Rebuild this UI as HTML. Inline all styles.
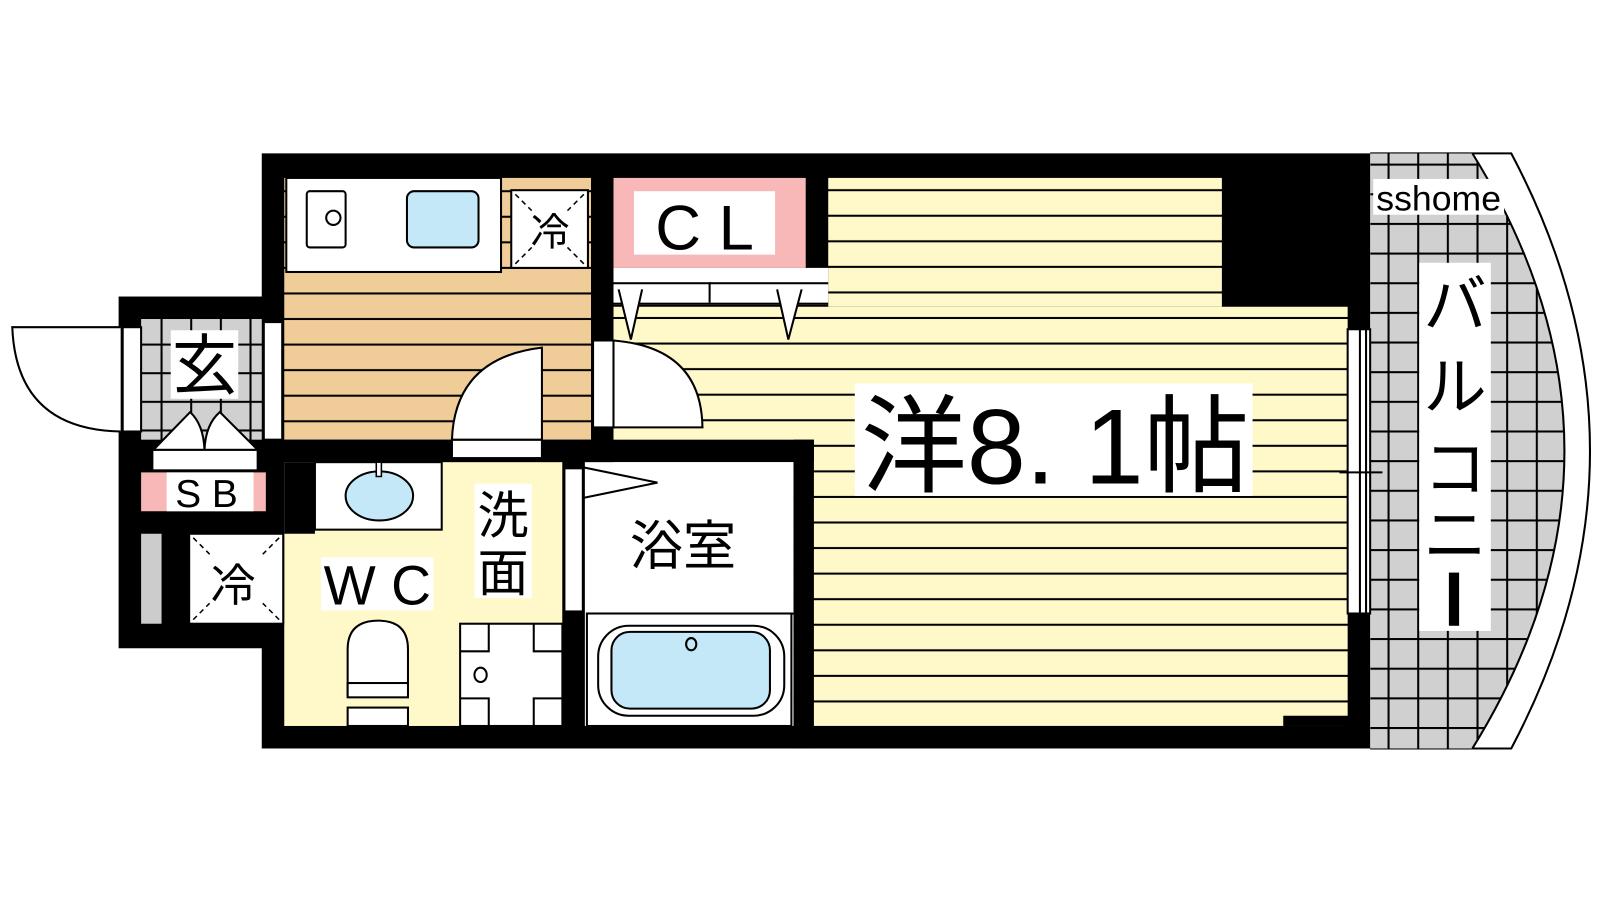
<!DOCTYPE html>
<html><head><meta charset="utf-8"><style>
html,body{margin:0;padding:0;background:#fff;}
svg{display:block;}
text{font-family:"Liberation Sans","Noto Sans CJK JP",sans-serif;fill:#000;}
</style></head><body>
<svg width="1600" height="900" viewBox="0 0 1600 900" xmlns="http://www.w3.org/2000/svg">
<defs>
<pattern id="ys" x="0" y="174" width="10" height="25" patternUnits="userSpaceOnUse">
<rect width="10" height="25" fill="#fff8c8"/><rect y="11" width="10" height="2" fill="#000"/></pattern>
<pattern id="ks" x="0" y="250" width="10" height="25" patternUnits="userSpaceOnUse">
<rect width="10" height="25" fill="#f0cc98"/><rect y="11" width="10" height="2" fill="#000"/></pattern>
<pattern id="bg" x="1357" y="189" width="29" height="29" patternUnits="userSpaceOnUse">
<rect width="29" height="29" fill="#d0d0d0"/><rect width="2" height="29" fill="#000"/><rect width="29" height="2" fill="#000"/></pattern>
<pattern id="gg" x="128" y="308" width="29" height="28" patternUnits="userSpaceOnUse">
<rect width="29" height="28" fill="#d0d0d0"/><rect width="2" height="28" fill="#000"/><rect width="29" height="2" fill="#000"/></pattern>
<clipPath id="bal"><path d="M1340 150 L1440 150 Q1620 441 1440 732 L1340 732 Z"/></clipPath>
</defs>
<g transform="scale(1.0225)">
<!-- balcony -->
<path d="M1340 150 L1478 150 Q1632 441 1478 732 L1340 732" fill="#fff" stroke="#000" stroke-width="2"/>
<rect x="1340" y="150" width="250" height="582" fill="url(#bg)" clip-path="url(#bal)"/>
<path d="M1440 150 Q1620 441 1440 732" fill="none" stroke="#000" stroke-width="2"/>
<rect x="1343" y="175" width="128" height="35" fill="#fff"/>
<text x="1346" y="206" font-size="34" textLength="122" lengthAdjust="spacingAndGlyphs">sshome</text>
<rect x="1388" y="257" width="70" height="360" fill="#fff"/>
<text x="1423" y="320" font-size="62" text-anchor="middle">バ</text>
<text x="1423" y="400" font-size="62" text-anchor="middle">ル</text>
<text x="1423" y="480" font-size="62" text-anchor="middle">コ</text>
<text x="1423" y="545" font-size="62" text-anchor="middle">ニ</text>
<rect x="1417" y="560" width="10" height="52" fill="#000"/>

<!-- black body -->
<rect x="256" y="150" width="1084" height="582" fill="#000"/>
<rect x="116" y="290" width="162" height="344" fill="#000"/>

<!-- kitchen -->
<rect x="278" y="174" width="300" height="256" fill="url(#ks)"/>
<rect x="280" y="174" width="210" height="92" fill="#fff" stroke="#000" stroke-width="2"/>
<rect x="300" y="187" width="38" height="55" rx="3" fill="#fff" stroke="#000" stroke-width="2"/>
<circle cx="326" cy="213" r="7" fill="none" stroke="#000" stroke-width="2"/>
<rect x="398" y="187" width="70" height="55" rx="7" fill="#c4e8f8" stroke="#000" stroke-width="2"/>
<rect x="500" y="186" width="75" height="76" fill="#fff" stroke="#000" stroke-width="2"/>
<path d="M504 190 L520 206 M571 190 L555 206 M504 258 L520 242 M571 258 L555 242" stroke="#000" stroke-width="1.5" stroke-dasharray="5 4"/>
<text x="538" y="240" font-size="38" text-anchor="middle">冷</text>

<!-- western room -->
<rect x="810" y="174" width="385" height="126" fill="url(#ys)"/>
<rect x="600" y="300" width="718" height="410" fill="url(#ys)"/>

<!-- CL -->
<rect x="600" y="174" width="188" height="88" fill="#f8b8b8"/>
<rect x="620" y="187" width="138" height="62" fill="#fff"/>
<text x="689" y="244" font-size="62" text-anchor="middle">C L</text>
<rect x="600" y="262" width="210" height="36" fill="#fff"/>
<rect x="600" y="276" width="210" height="2" fill="#000"/><rect x="600" y="296" width="210" height="2" fill="#000"/>
<rect x="693" y="276" width="2" height="20" fill="#000"/>
<path d="M605 283 L617 332 L628 283 M760 283 L771 332 L784 283" fill="#fff" stroke="#000" stroke-width="2"/>

<rect x="1255" y="700" width="70" height="10" fill="#000"/>
<rect x="1318" y="322" width="22" height="278" fill="#fff" stroke="#000" stroke-width="2"/>
<line x1="1330" y1="322" x2="1330" y2="600" stroke="#000" stroke-width="2"/>
<line x1="1336" y1="322" x2="1336" y2="600" stroke="#000" stroke-width="2"/>
<line x1="1310" y1="462" x2="1352" y2="462" stroke="#000" stroke-width="2"/>
<rect x="836" y="375" width="389" height="110" fill="#fff"/>
<text x="842" y="473" font-size="104" textLength="380" lengthAdjust="spacingAndGlyphs">洋8. 1帖</text>

<!-- door kitchen -> room -->
<rect x="580" y="333" width="20" height="85" fill="#fff" stroke="#000" stroke-width="2"/>
<path d="M600 333 Q686 340 687 418 L600 418 Z" fill="#fff" stroke="#000" stroke-width="2"/>

<!-- bath/wash walls -->
<rect x="256" y="430" width="540" height="22" fill="#000"/>
<rect x="776" y="430" width="20" height="302" fill="#000"/>
<!-- wash -->
<rect x="278" y="452" width="272" height="258" fill="#fff8c8"/>
<rect x="278" y="452" width="30" height="70" fill="#000"/>
<rect x="308" y="452" width="124" height="66" fill="#fff" stroke="#000" stroke-width="2"/>
<ellipse cx="371" cy="485" rx="33" ry="24" fill="#c4e8f8" stroke="#000" stroke-width="2"/>
<rect x="368" y="452" width="5" height="14" fill="#fff" stroke="#000" stroke-width="1.5"/>
<rect x="464" y="473" width="56" height="112" fill="#fff"/>
<text x="492" y="522" font-size="50" text-anchor="middle">洗</text>
<text x="492" y="578" font-size="50" text-anchor="middle">面</text>
<rect x="314" y="545" width="110" height="52" fill="#fff"/>
<text x="369" y="591" font-size="54" text-anchor="middle">W C</text>
<path d="M340 680 L340 635 Q340 607 370 607 Q399 607 399 635 L399 680 Z" fill="#fff" stroke="#000" stroke-width="2"/>
<rect x="340" y="668" width="59" height="14" fill="#fff" stroke="#000" stroke-width="2"/>
<rect x="340" y="692" width="59" height="18" fill="#fff" stroke="#000" stroke-width="2"/>
<rect x="450" y="610" width="100" height="100" fill="#fff" stroke="#000" stroke-width="2"/>
<path d="M450 637 H478 V610 M522 610 V637 H550 M450 683 H478 V710 M522 710 V683 H550" fill="none" stroke="#000" stroke-width="2"/>
<ellipse cx="470" cy="660" rx="6" ry="7" fill="none" stroke="#000" stroke-width="2"/>
<!-- door wash top -->
<rect x="442" y="430" width="88" height="18" fill="#fff" stroke="#000" stroke-width="2"/>
<path d="M442 430 Q445 350 530 340 L530 430 Z" fill="#fff" stroke="#000" stroke-width="2"/>
<!-- bath -->
<rect x="550" y="452" width="22" height="258" fill="#000"/>
<rect x="552" y="458" width="18" height="140" fill="#fff" stroke="#000" stroke-width="2"/>
<rect x="572" y="452" width="204" height="258" fill="#fff"/>
<path d="M570 457 L643 472 L570 487" fill="none" stroke="#000" stroke-width="2"/>
<text x="668" y="552" font-size="52" text-anchor="middle">浴室</text>
<path d="M574 600 Q675 616 776 600" fill="none" stroke="#000" stroke-width="2"/>
<rect x="574" y="600" width="200" height="110" fill="#fff" stroke="#000" stroke-width="2"/>
<rect x="585" y="612" width="182" height="88" rx="30" fill="#fff" stroke="#000" stroke-width="2"/>
<rect x="598" y="618" width="155" height="75" rx="18" fill="#c4e8f8" stroke="#000" stroke-width="2"/>
<ellipse cx="676" cy="630" rx="5" ry="6" fill="none" stroke="#000" stroke-width="2"/>

<!-- genkan -->
<rect x="138" y="312" width="118" height="118" fill="url(#gg)"/>
<rect x="120" y="320" width="18" height="102" fill="#fff" stroke="#000" stroke-width="2"/>
<rect x="258" y="315" width="18" height="115" fill="#fff" stroke="#000" stroke-width="2"/>
<path d="M118 320 L12 320 Q16 420 118 422" fill="#fff" stroke="#000" stroke-width="2"/>
<rect x="167" y="323" width="66" height="67" fill="#fff"/>
<text x="200" y="380" font-size="64" text-anchor="middle">玄</text>
<path d="M150 440 L186 403 Q199 415 200 440 Q201 415 215 403 L252 440 Z" fill="#fff" stroke="#000" stroke-width="2"/>
<rect x="149" y="440" width="103" height="20" fill="#fff" stroke="#000" stroke-width="2"/>
<rect x="138" y="462" width="122" height="38" fill="#f8b8b8"/>
<rect x="163" y="462" width="85" height="38" fill="#fff"/>
<text x="202" y="496" font-size="38" text-anchor="middle">S B</text>
<rect x="138" y="522" width="20" height="88" fill="#ccc"/>
<rect x="185" y="522" width="92" height="88" fill="#fff" stroke="#000" stroke-width="2"/>
<path d="M189 526 L205 542 M273 526 L257 542 M189 606 L205 590 M273 606 L257 590" stroke="#000" stroke-width="1.5" stroke-dasharray="5 4"/>
<text x="228" y="588" font-size="44" text-anchor="middle">冷</text>
</g>
</svg>
</body></html>
